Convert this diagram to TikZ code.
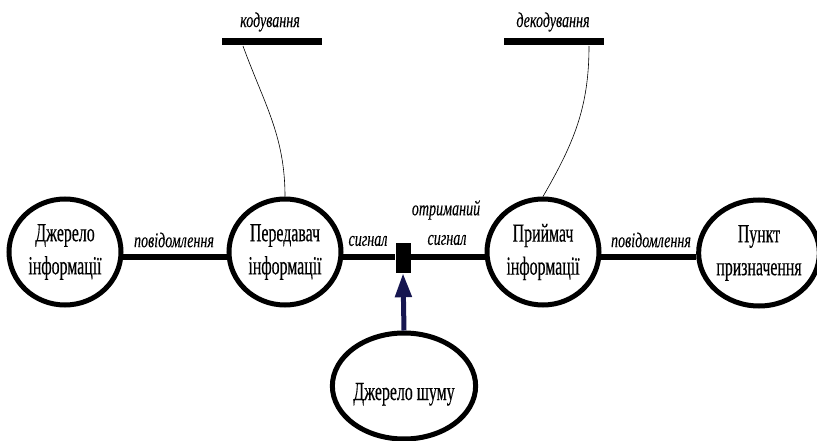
\documentclass[tikz,border=0pt]{standalone}
\usepackage{fontspec}
\setmainfont{Liberation Serif}
\newfontfamily\nodefont[FakeStretch=0.61,FakeBold=0.4]{Liberation Serif}
\newfontfamily\labfont[FakeStretch=0.67,FakeBold=0.2]{Liberation Serif}
\usetikzlibrary{shapes.geometric,arrows.meta}
\definecolor{navy}{HTML}{161650}
\tikzset{
  block/.style={ellipse,draw=black,line width=5pt,minimum width=112pt,minimum height=106pt,inner sep=0pt,align=center,
    font=\nodefont\fontsize{26}{33}\selectfont},
  lab/.style={inner sep=0pt,font=\labfont\itshape\fontsize{21}{22}\selectfont},
  mainline/.style={line width=6pt},
  bar/.style={rectangle,fill=black,minimum width=100pt,minimum height=7pt,inner sep=0pt},
  thin/.style={line width=0.6pt},
  noisearrow/.style={draw=navy,line width=5pt,-{Triangle[length=24pt,width=16pt]}}
}
\begin{document}
\begin{tikzpicture}[x=1pt,y=-1pt]
\useasboundingbox (0,0) rectangle (817,441);
\node[block] (src) at (65,252) {Джерело\\інформації};
\node[block] (tx) at (285,252) {Передавач\\інформації};
\node[block] (rx) at (543,252) {Приймач\\інформації};
\node[block] (dst) at (759,253) {Пункт\\призначення};
\node[block] (noise) at (404,386) {\raisebox{-14pt}[0pt][0pt]{Джерело шуму}};
\node[rectangle,fill=black,minimum width=15pt,minimum height=30pt,inner sep=0pt] (sq) at (403,258) {};

\draw[mainline] (src.-5) -- (tx.west |- src.-5);
\draw[mainline] (tx.-5) -- (sq.west |- tx.-5);
\draw[mainline] (sq.east |- rx.185) -- (rx.185);
\draw[mainline] (rx.-5) -- (dst.west |- rx.-5);
\draw[noisearrow] (noise.north) -- (sq.south);

\node[lab] (l1) at (174,240) {повідомлення};
\node[lab] (l2) at (368,241) {сигнал};
\node[lab] (l3) at (446,210) {отриманий};
\node[lab] (l4) at (447,240) {сигнал};
\node[lab] (l5) at (651,240) {повідомлення};

\node[bar] (kodbar) at (272,42) {};
\node[bar] (dekbar) at (554,42) {};
\node[lab] (kod) at (270,22) {кодування};
\node[lab] (dek) at (553,22) {декодування};
\coordinate (kodA) at (243,46);
\coordinate (dekA) at (589,46);
\draw[thin] (kodA) to[out=-70,in=90] (tx.north);
\draw[thin] (dekA) to[out=-90,in=60] (rx.north);
\end{tikzpicture}
\end{document}
